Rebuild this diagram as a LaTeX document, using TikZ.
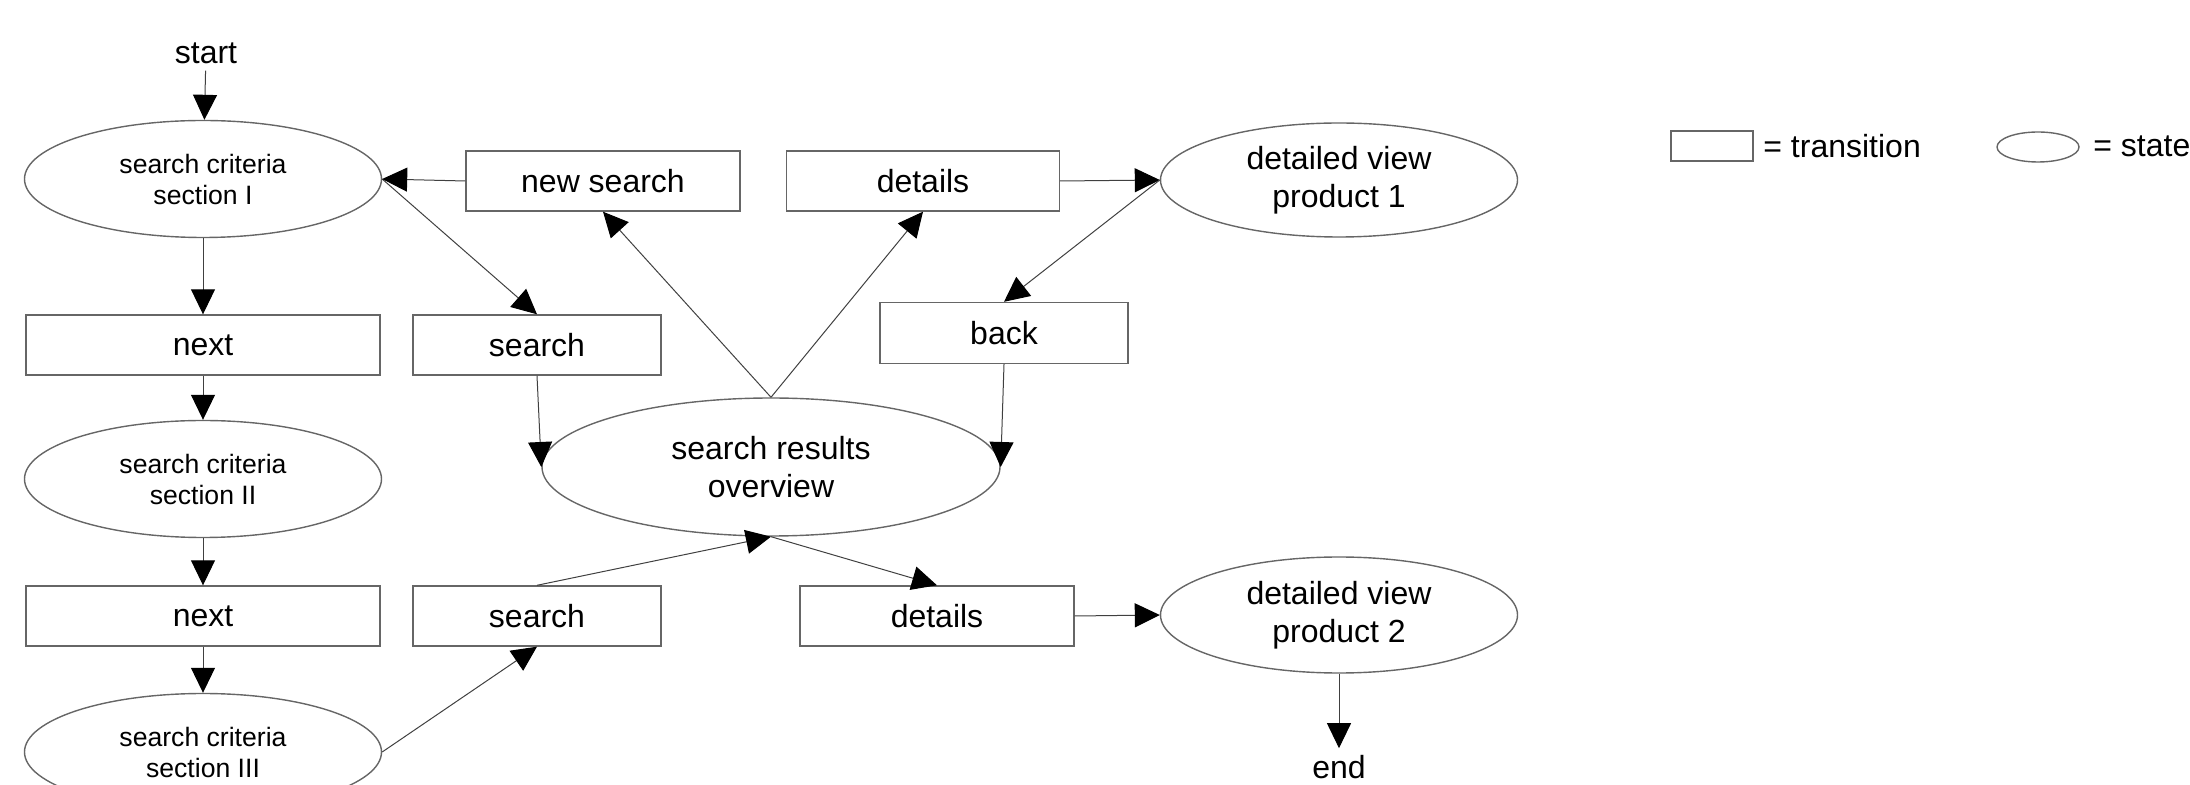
\documentclass[tikz,border=0pt]{standalone}
\usepackage{fontspec}
\setmainfont{Liberation Sans}
\usetikzlibrary{arrows.meta, shapes.geometric}
\tikzset{
  crit/.style={ellipse,draw=black!60,line width=0.7pt,inner sep=0pt,
    minimum width=178.5pt,minimum height=58.5pt,align=center,
    font=\fontsize{13.3}{15.5}\selectfont},
  view/.style={ellipse,draw=black!60,line width=0.7pt,inner sep=0pt,
    align=center,font=\fontsize{16}{19}\selectfont},
  act/.style={rectangle,draw=black!60,line width=0.7pt,inner sep=0pt,
    minimum height=30pt,font=\fontsize{16}{19}\selectfont},
  lbl/.style={font=\fontsize{16}{19}\selectfont},
  ar/.style={-{Triangle[length=12.5pt,width=12pt,black]},draw=black!75,line width=0.5pt}
}

\begin{document}
\begin{tikzpicture}[x=0.5pt,y=-0.5pt]
\useasboundingbox (0,0) rectangle (2190,785);
% states
\node[lbl] (start) at (206,53) {start};
\node[crit] (sc1) at (203,179) {search criteria\\section I};
\node[crit] (sc2) at (203,479) {search criteria\\section II};
\node[crit] (sc3) at (203,752) {search criteria\\section III};
\node[view,minimum width=229pt,minimum height=69pt] (sro) at (771,467) {search results\\overview};
\node[view,minimum width=178.5pt,minimum height=57pt] (dv1) at (1339,180) {detailed view\\product 1};
\node[view,minimum width=178.5pt,minimum height=58pt] (dv2) at (1339,615) {detailed view\\product 2};
\node[lbl] (end) at (1339,767) {end};
% transitions
\node[act,minimum width=177pt] (next1) at (203,345) {next};
\node[act,minimum width=177pt] (next2) at (203,616) {next};
\node[act,minimum width=124pt] (search1) at (537,345) {search};
\node[act,minimum width=124pt] (search2) at (537,616) {search};
\node[act,minimum width=137pt] (newsearch) at (603,181) {new search};
\node[act,minimum width=136.5pt] (details1) at (923,181) {details};
\node[act,minimum width=124pt,minimum height=30.5pt] (back) at (1004,333) {back};
\node[act,minimum width=137pt] (details2) at (937,616) {details};
% legend
\node[act,minimum width=41pt,minimum height=15pt] (lgact) at (1712,146) {};
\node[lbl,anchor=west,inner sep=0pt] (lgacttxt) at (1763,146) {= transition};
\node[view,minimum width=41pt,minimum height=15pt] (lgview) at (2038,147) {};
\node[lbl,anchor=west,inner sep=0pt] (lgviewtxt) at (2093,146) {= state};
% arrows
\draw[ar] (start) -- (sc1);
\draw[ar] (sc1) -- (next1);
\draw[ar] (next1) -- (sc2);
\draw[ar] (sc2) -- (next2);
\draw[ar] (next2) -- (sc3);
\draw[ar] (sc3.east) -- (search2.south);
\draw[ar] (search2.north) -- (sro.south);
\draw[ar] (search1.south) -- (sro.west);
\draw[ar] (sc1.east) -- (search1.north);
\draw[ar] (newsearch.west) -- (sc1.east);
\draw[ar] (sro.north) -- (newsearch.south);
\draw[ar] (sro.north) -- (details1.south);
\draw[ar] (details1.east) -- (dv1.west);
\draw[ar] (dv1.west) -- (back.north);
\draw[ar] (back.south) -- (sro.east);
\draw[ar] (sro.south) -- (details2.north);
\draw[ar] (details2.east) -- (dv2.west);
\draw[ar] (dv2) -- (end);
\end{tikzpicture}
\end{document}
